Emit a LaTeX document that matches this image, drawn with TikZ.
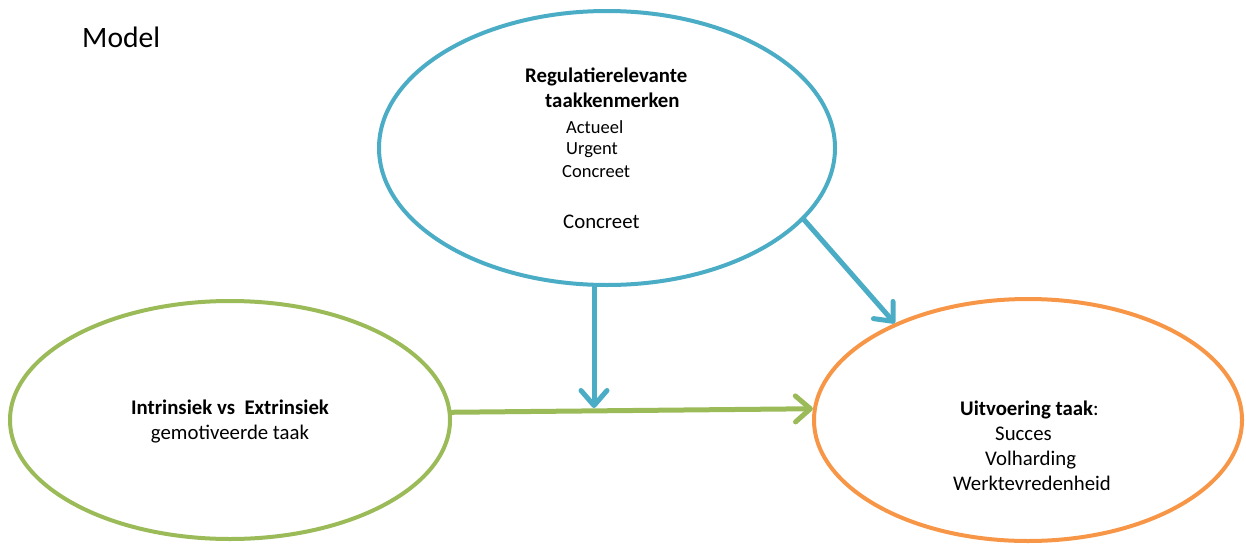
\documentclass[tikz,border=0pt]{standalone}
\usepackage{fontspec}
\setmainfont{Carlito}
\usetikzlibrary{shapes.geometric,arrows.meta}
\definecolor{cblue}{HTML}{4BACC6}
\definecolor{cgreen}{HTML}{9BBB59}
\definecolor{corange}{HTML}{F79646}
\tikzset{
  oval/.style={draw, ellipse, line width=4pt, inner sep=0pt},
  conn/.style={line width=5pt, line cap=round, -{Straight Barb[length=15pt,width=26pt,round]}},
  txt/.style={anchor=base west, inner sep=0pt, font=\fontsize{20.8}{25}\selectfont},
  txtb/.style={txt, font=\fontsize{20.8}{25}\selectfont\bfseries},
  txts/.style={txt, font=\fontsize{18.5}{22}\selectfont},
}
\begin{document}
\begin{tikzpicture}[x=1pt,y=-1pt]
\useasboundingbox (0,0) rectangle (1246,546);
\node[anchor=base west, inner sep=0pt, font=\fontsize{29.6}{34}\selectfont] (title) at (82,47) {Model};
\node[oval, draw=cblue, minimum width=456pt, minimum height=274pt] (blue) at (607,148) {};
\node[oval, draw=cgreen, minimum width=440pt, minimum height=238pt] (green) at (230,420) {};
\node[oval, draw=corange, minimum width=428pt, minimum height=242pt] (orange) at (1028,420) {};
% blue texts
\node[txtb] (b1) at (525,82) {Regulatierelevante};
\node[txtb] (b2) at (545,107) {taakkenmerken};
\node[txts] (b3) at (566,133) {Actueel};
\node[txts] (b4) at (566,154) {Urgent};
\node[txts] (b5) at (562,177) {Concreet};
\node[txt] (b6) at (563,228) {Concreet};
% green texts
\node[txtb, anchor=base] (g1) at (230,414) {Intrinsiek vs\ \ Extrinsiek};
\node[txt, anchor=base] (g2) at (230,439) {gemotiveerde taak};
% orange texts
\node[txt] (o1) at (960,415) {\textbf{Uitvoering taak}:};
\node[txt] (o2) at (995,440) {Succes};
\node[txt] (o3) at (985,465) {Volharding};
\node[txt] (o4) at (953,490) {Werktevredenheid};
% connectors
\coordinate (j) at (594,408);
\draw[conn, draw=cgreen] (green.2.8) -- (orange.177.5);
\draw[conn, draw=cblue] (j |- blue.south) -- (j);
\draw[conn, draw=cblue] (blue.-20.7) -- (orange.144.9);
\end{tikzpicture}
\end{document}
